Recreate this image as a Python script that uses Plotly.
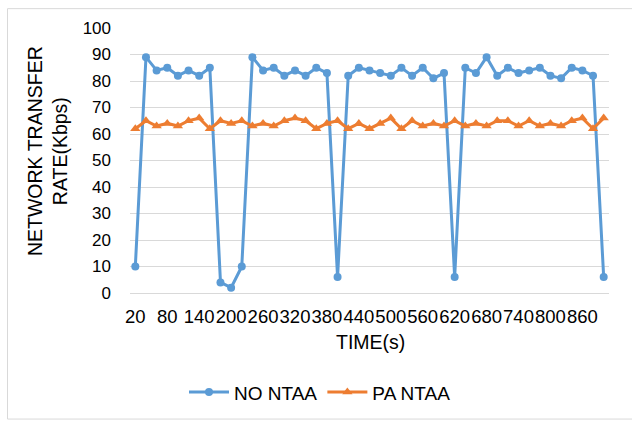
import plotly.graph_objects as go

times = [20, 40, 60, 80, 100, 120, 140, 160, 180, 200, 220, 240, 260, 280, 300,
         320, 340, 360, 380, 400, 420, 440, 460, 480, 500, 520, 540, 560, 580, 600,
         620, 640, 660, 680, 700, 720, 740, 760, 780, 800, 820, 840, 860, 880, 900]

no_ntaa = [10, 89, 84, 85, 82, 84, 82, 85, 4, 2, 10, 89, 84, 85, 82,
           84, 82, 85, 83, 6, 82, 85, 84, 83, 82, 85, 82, 85, 81, 83,
           6, 85, 83, 89, 82, 85, 83, 84, 85, 82, 81, 85, 84, 82, 6]

pa_ntaa = [62, 65, 63, 64, 63, 65, 66, 62, 65, 64, 65, 63, 64, 63, 65,
           66, 65, 62, 64, 65, 62, 64, 62, 64, 66, 62, 65, 63, 64, 63,
           65, 63, 64, 63, 65, 65, 63, 65, 63, 64, 63, 65, 66, 62, 66]

tick_labels = [str(t) for t in times[::3]]
y_ticks = [0, 10, 20, 30, 40, 50, 60, 70, 80, 90, 100]

FONT = "Liberation Sans, Arial, sans-serif"
W, H = 632, 423
L, R, T, B = 130, 23, 28, 128
pw, ph = W - L - R, H - T - B

def px_x(p):
    return (p - L) / pw

def px_y(p):
    return (H - B - p) / ph

fig = go.Figure()
fig.add_trace(go.Scatter(
    x=times, y=no_ntaa, name="NO NTAA", mode="lines+markers",
    line=dict(color="#5B9BD5", width=3),
    marker=dict(symbol="circle", size=8, color="#5B9BD5"),
))
fig.add_trace(go.Scatter(
    x=times, y=pa_ntaa, name="PA NTAA", mode="lines+markers",
    line=dict(color="#ED7D31", width=3),
    marker=dict(symbol="triangle-up", size=9, color="#ED7D31"),
))

fig.update_layout(
    width=W, height=H,
    margin=dict(l=L, r=R, t=T, b=B, pad=0),
    paper_bgcolor="white", plot_bgcolor="white",
    font=dict(family=FONT, color="#000000", size=16),
    showlegend=True,
    legend=dict(orientation="h", x=px_x(320), y=px_y(395), xanchor="center",
                yanchor="middle", font=dict(size=19, family=FONT),
                bgcolor="rgba(0,0,0,0)", itemwidth=40),
    xaxis=dict(range=[10, 910], tickmode="array", tickvals=times[::3],
               ticktext=tick_labels, showgrid=False, zeroline=False,
               showline=True, linecolor="#d9d9d9", linewidth=1,
               tickfont=dict(size=18.5, family=FONT), ticks="",
               tickangle=0, ticklabelstandoff=7),
    yaxis=dict(range=[0, 100], tickvals=y_ticks, showgrid=True,
               gridcolor="#d9d9d9", gridwidth=1, zeroline=False,
               showline=False, tickfont=dict(size=17, family=FONT),
               ticks="", ticklabelstandoff=18),
    annotations=[
        dict(text="NETWORK TRANSFER<br>RATE(Kbps)", xref="paper", yref="paper",
             x=px_x(47), y=px_y(152), textangle=-90, showarrow=False,
             font=dict(size=19.5, family=FONT), xanchor="center", yanchor="middle"),
        dict(text="TIME(s)", xref="paper", yref="paper",
             x=px_x(370), y=px_y(344), showarrow=False,
             font=dict(size=19.5, family=FONT), xanchor="center", yanchor="middle"),
    ],
    shapes=[
        dict(type="rect", xref="paper", yref="paper",
             x0=px_x(7.5), x1=px_x(640), y0=px_y(422), y1=px_y(8.5),
             line=dict(color="#d9d9d9", width=1), fillcolor="rgba(0,0,0,0)",
             layer="below"),
    ],
)

fig.write_html("out.html")
